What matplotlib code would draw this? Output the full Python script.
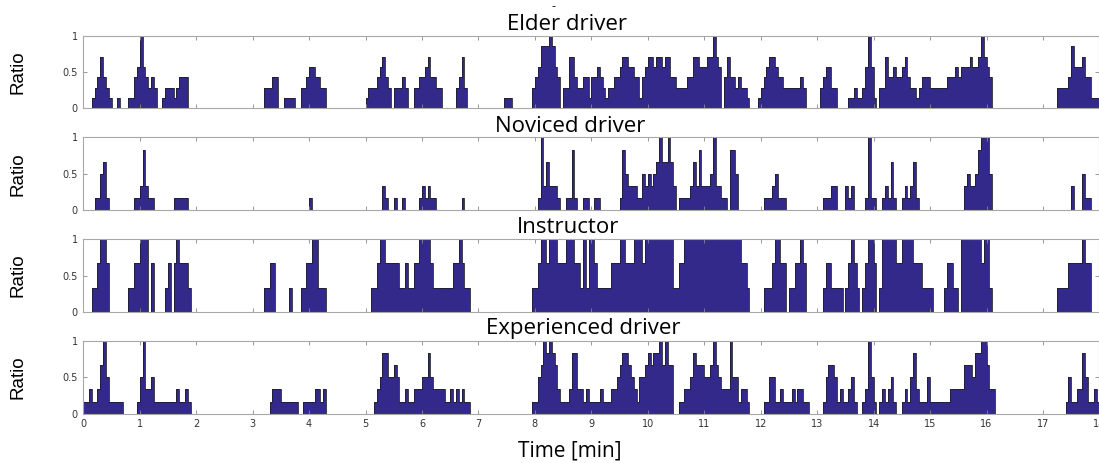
import numpy as np
import matplotlib.pyplot as plt

# -----------------------------
# DATA (ratio levels per 0.05 min bin, given as runs: start time, levels)
# -----------------------------
BIN = 0.05
T_MAX = 18.0

panel_titles = ["Elder driver", "Noviced driver", "Instructor", "Experienced driver"]
denominators = [7, 6, 3, 6]

elder_runs = [
    (0.15, [1, 2, 3, 5, 3, 2, 1]),
    (0.60, [1]),
    (0.80, [1, 1, 3, 4, 7, 4, 3, 2, 3, 2]),
    (1.40, [1, 2, 2, 2, 1, 2, 3, 3, 3]),
    (3.20, [2, 2, 2, 3, 3]),
    (3.55, [1, 1, 1, 1]),
    (3.85, [2, 2, 3, 4, 4, 3, 3, 2, 2]),
    (5.00, [1, 2, 2, 2, 3, 4, 5, 3, 2]),
    (5.50, [2, 2, 2, 3, 2]),
    (5.85, [2, 2, 3, 3, 4, 5, 3, 3, 2, 2]),
    (6.60, [2, 3, 5, 2]),
    (7.45, [1, 1, 1]),
    (7.95, [2, 3, 4, 6, 6, 6, 7, 6, 4, 3]),
    (8.50, [2, 2, 5, 5, 3, 2, 2, 3, 3, 1,
            3, 3, 4, 3, 2, 1, 2, 2, 3, 3,
            4, 5, 5, 4, 4, 3, 3, 1,
            3, 4, 5, 5, 4, 5, 5, 4, 5, 5, 3, 3,
            2, 2, 2, 2, 3, 3,
            5, 5, 4, 4, 4, 5, 5, 7, 5, 4, 0,
            3, 5, 3, 3, 2, 3, 2, 2, 1]),
    (11.95, [1, 2, 3, 4, 5, 5, 4, 3, 3, 2, 2, 2, 2, 2, 2, 3, 2]),
    (13.05, [2, 3, 4, 4, 2, 2]),
    (13.55, [1, 1, 2, 1, 1, 2, 4, 7, 4, 1, 0,
             2, 2, 5, 3, 3, 4, 3, 3, 4, 5, 3, 2, 2, 1, 2,
             3, 3, 3, 2, 2, 2, 2, 2, 2, 3,
             3, 3, 4, 3,
             4, 4, 4, 5, 4, 4, 5, 7, 5, 4, 3]),
    (17.25, [2, 2, 2, 2, 3, 6, 4, 4, 4, 5, 3, 3, 1, 1, 1]),
]

novice_runs = [
    (0.20, [1, 1, 3, 4, 1]),
    (0.90, [1, 1, 2, 5, 2, 1, 1]),
    (1.60, [1, 1, 1, 1, 1]),
    (4.00, [1]),
    (5.30, [2, 1, 0, 0, 1]),
    (5.65, [1]),
    (5.95, [1, 2, 1, 2, 1, 1]),
    (6.70, [1]),
    (8.05, [1, 6, 2, 4, 2, 2, 2, 1]),
    (8.55, [1, 1, 5, 1]),
    (8.85, [1, 1]),
    (9.05, [1, 1]),
    (9.50, [1, 5, 3, 2, 2, 2, 1, 1, 3, 2, 3, 2, 3, 4, 6, 4, 4, 6, 4, 2]),
    (10.55, [1, 1, 1, 1, 2, 4, 2, 5, 2, 2, 2, 3, 6, 2, 2, 1, 1]),
    (11.45, [5, 5, 3]),
    (12.05, [1, 1, 1, 2, 3, 1, 1, 1]),
    (13.10, [1, 1, 1, 2, 2]),
    (13.50, [2, 1, 2]),
    (13.85, [1, 6, 1, 1]),
    (14.15, [1, 2, 1, 4, 1]),
    (14.50, [1, 2, 1, 2, 4, 1]),
    (15.60, [2, 3, 2, 2, 3, 5, 6, 6, 6, 3]),
    (17.50, [2]),
    (17.70, [3, 1, 1]),
]

instructor_runs = [
    (0.15, [1, 1, 2, 3, 3, 2]),
    (0.80, [1, 1, 2, 2, 3, 3, 3, 0, 2]),
    (1.45, [1, 2]),
    (1.60, [2, 3, 2, 2, 2, 1]),
    (3.20, [1, 1, 2, 2]),
    (3.65, [1]),
    (3.85, [1, 1, 2, 2, 3, 3, 1, 1, 1]),
    (5.10, [1, 1, 2, 3, 3, 2, 2, 2, 2, 2,
            1, 1, 2, 1, 1, 2, 2, 3, 3, 3,
            3, 2, 1, 1, 1, 1, 1, 1, 1, 2,
            2, 3, 2, 1, 1]),
    (7.95, [1, 1, 2, 3, 3, 2, 3, 3, 3, 2, 2, 2, 3, 3, 3, 2, 2, 1, 3,
            1, 3, 3, 2, 1, 1, 1, 1, 1, 2, 2, 2, 3, 3, 2, 2, 2, 3, 3, 3, 2,
            3, 3, 3, 3, 3, 3, 3, 3, 3, 3, 1, 1, 2, 2,
            3, 3, 3, 3, 3, 3, 3, 3, 3, 3, 3, 3, 3, 3, 3, 3, 3, 3, 3, 3,
            2, 2, 1]),
    (12.05, [1, 1, 1, 2, 3, 3, 2, 2, 0, 1, 1, 2, 2, 3, 2]),
    (13.10, [1, 2, 2, 1, 1, 1, 1, 0,
             1, 2, 3, 2, 1, 0,
             1, 2, 3, 3, 2, 0,
             1, 3, 3, 3, 3, 3, 2, 2, 3, 3, 3, 3, 2, 2, 2, 1, 1, 1, 1]),
    (15.25, [1, 2, 2, 1, 1, 0, 3, 3, 3, 3, 3, 3, 3, 2, 3, 3, 1]),
    (17.25, [1, 1, 1, 1, 2, 2, 2, 2, 2, 3, 2, 2]),
]

experienced_runs = [
    (0.00, [1, 1, 2, 1, 1, 2, 4, 6, 3, 1, 1, 1, 1, 1]),
    (0.95, [1, 3, 6, 2, 2, 3, 1, 1, 1, 1, 1, 1, 1]),
    (1.60, [1, 2, 1, 1, 2, 1]),
    (3.30, [1, 2, 2, 2, 1, 1, 1, 1, 1, 1]),
    (3.90, [1, 1, 1, 1, 2, 2, 1, 2]),
    (5.15, [1, 2, 3, 5, 5, 3, 3, 4, 3, 1,
            1, 2, 1, 1, 2, 2, 2, 3, 3, 5,
            3, 2, 2, 2, 2, 1, 1, 2, 1, 2,
            1, 2, 1, 1]),
    (7.95, [1, 1, 3, 4, 6, 5, 6, 5, 4, 2, 1, 1, 1, 2, 5, 5, 2, 2, 1, 2, 1]),
    (9.00, [1, 1, 1, 2, 1, 1, 1, 2, 2, 3, 4, 5, 5, 4, 3, 2, 1, 3, 3,
            4, 5, 4, 5, 5, 6, 4, 6, 4, 4]),
    (10.55, [1, 1, 2, 2, 3, 5, 4, 4, 4, 3, 3, 4, 6, 4, 3, 2, 2, 2, 6, 3,
             3, 1, 2, 2, 1]),
    (12.05, [1, 1, 3, 3, 1, 1, 2, 1, 1, 1, 2, 1, 2, 2, 1, 1]),
    (13.10, [1, 3, 4, 4, 3, 1, 2, 1, 1, 2, 3, 1]),
    (13.80, [1, 2, 6, 3, 1]),
    (14.10, [1, 2, 1, 2, 3, 1]),
    (14.50, [1, 2, 1, 3, 5, 2, 1, 1, 1, 3, 1, 1, 1, 1, 1, 1, 1, 2, 2, 2,
             2, 2, 4, 4, 4, 3, 5, 5, 6, 6, 4, 2, 2]),
    (17.40, [1, 3, 1, 1, 2, 2, 5, 3, 1, 1, 2, 1]),
]

all_runs = [elder_runs, novice_runs, instructor_runs, experienced_runs]

x_ticks = list(range(0, 19))
y_ticks = [0, 0.5, 1]
y_tick_labels = ["0", "0.5", "1"]


def build_series(runs, denom):
    n = int(round(T_MAX / BIN))
    vals = np.zeros(n)
    for start, levels in runs:
        i0 = int(round(start / BIN))
        for k, lv in enumerate(levels):
            if i0 + k < n:
                vals[i0 + k] = lv / denom
    return vals


edges = np.linspace(0, T_MAX, int(round(T_MAX / BIN)) + 1)

# -----------------------------
# PLOT
# -----------------------------
W, H = 1099, 463
fig = plt.figure(figsize=(W / 100, H / 100), dpi=100)

bar_color = "#33298a"
frame_color = "#a8a8a8"

# axes boxes in pixels: (top, bottom)
boxes = [(36, 108.3), (137.5, 210.3), (239, 312.3), (341, 413.7)]
ax_left = 83.3
ax_width = 18 * 56.45
title_x = [567, 570, 568, 583]
title_base = [29.5, 132, 233, 334]

for idx, (runs, denom, title) in enumerate(zip(all_runs, denominators, panel_titles)):
    top, bot = boxes[idx]
    ax = fig.add_axes([ax_left / W, 1 - bot / H, ax_width / W, (bot - top) / H])
    vals = build_series(runs, denom)
    ax.stairs(vals, edges, fill=True, color=bar_color, linewidth=0)
    ax.stairs(vals, edges, color="#1e1e2e", linewidth=0.6)

    ax.set_xlim(0, T_MAX)
    ax.set_ylim(0, 1)
    ax.set_xticks(x_ticks)
    ax.set_yticks(y_ticks)
    ax.set_yticklabels(y_tick_labels)
    ax.tick_params(direction="in", length=3, width=0.6, color="#888888",
                   top=True, right=True, labelsize=7, labelcolor="#333333", pad=4)
    if idx < 3:
        ax.set_xticklabels([])
    for sp in ax.spines.values():
        sp.set_color(frame_color)
        sp.set_linewidth(0.8)

    fig.text(18 / W, 1 - (top + bot) / 2 / H, "Ratio", rotation=90,
             ha="center", va="center", fontsize=13.5, family="Liberation Sans")
    fig.text(title_x[idx] / W, 1 - title_base[idx] / H, title,
             ha="center", va="baseline", fontsize=16, family="Open Sans")

fig.text(553 / W, 1 - 9 / H, "-", ha="center", va="baseline", fontsize=8)
fig.text(570 / W, 1 - 457 / H, "Time [min]", ha="center", va="baseline",
         fontsize=15, family="Open Sans")

fig.savefig("out.png", dpi=100)
